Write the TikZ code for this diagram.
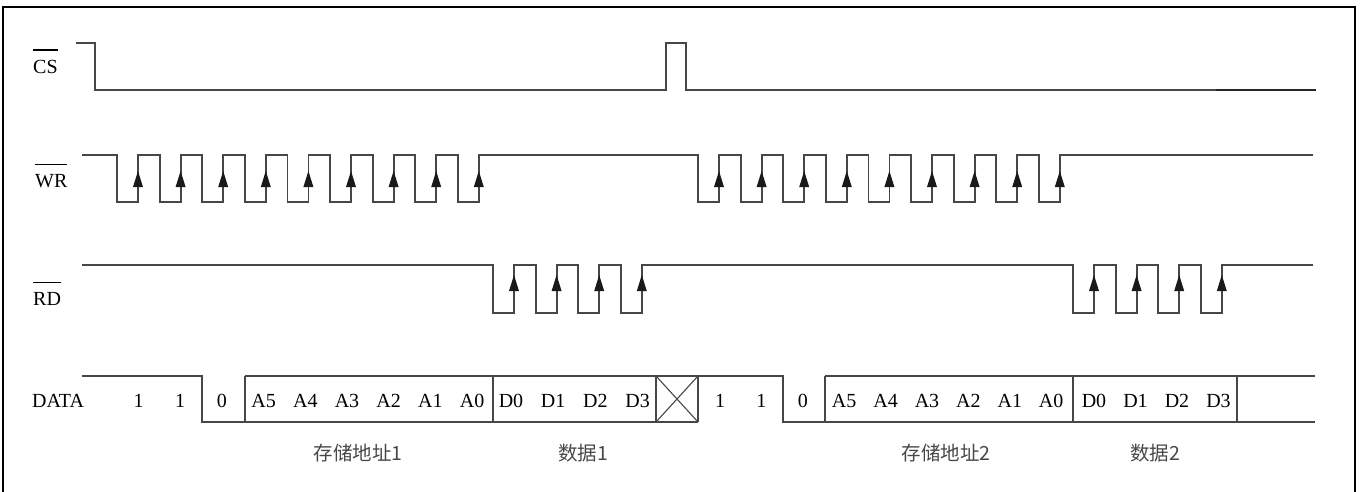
\documentclass[tikz,border=0pt]{standalone}
\usepackage{fontspec}
\setmainfont{Liberation Serif}
\newfontfamily\cjk{Noto Sans CJK SC}
\newcommand\ovl[1]{\leavevmode\vbox{\hrule height 1.4pt\kern 9pt\hbox{#1}}}
\newcommand\upmark[3]{\fill[black!90] ({#1-5},#3) -- ({#1+5},#3) -- (#1,#2) -- cycle;}
\begin{document}
\begin{tikzpicture}[x=1pt,y=-1pt,
  sig/.style={draw=black!72, line width=1.8pt, line join=miter},
  lbl/.style={inner sep=0pt, font=\fontsize{20}{20}\selectfont, text=black},
  cn/.style={inner sep=0pt, font=\cjk\fontsize{19.5}{19.5}\selectfont, text=black!72}]
\useasboundingbox (0,0) rectangle (1363,491);
\clip (0,0) rectangle (1363,491);
\draw[line width=2.4pt] (3,7) rectangle (1355,530);
\def\P{42.6}
% signal names
\node[lbl, anchor=base west] (cs) at (33,73) {\ovl{CS}};
\node[lbl, anchor=base west] (wr) at (35,187) {\ovl{WR}};
\node[lbl, anchor=base west] (rd) at (33,305) {\ovl{RD}};
\node[lbl, anchor=base west] (data) at (32,407) {DATA};
% CS
\draw[sig] (76,43) -- (95,43) -- (95,90) -- (666,90) -- (666,43) -- (686,43) -- (686,90) -- (1316,90);
\draw[draw=black!85, line width=2.6pt] (1216,90) -- (1316,90);
% WR
\draw[sig] (82,155)
  foreach \i in {0,...,8} { -- ({117+\P*\i},155) -- ({117+\P*\i},202) -- ({138+\P*\i},202) -- ({138+\P*\i},155) }
  -- (698,155)
  foreach \i in {0,...,8} { -- ({698+\P*\i},155) -- ({698+\P*\i},202) -- ({719+\P*\i},202) -- ({719+\P*\i},155) }
  -- (1313,155);
\foreach \i in {0,...,8} {
  \upmark{138+\P*\i}{171}{187}
  \upmark{719+\P*\i}{171}{187}
}
% RD
\draw[sig] (82,265)
  foreach \i in {0,...,3} { -- ({493+\P*\i},265) -- ({493+\P*\i},313) -- ({514+\P*\i},313) -- ({514+\P*\i},265) }
  -- (1073,265)
  foreach \i in {0,...,3} { -- ({1073+\P*\i},265) -- ({1073+\P*\i},313) -- ({1094+\P*\i},313) -- ({1094+\P*\i},265) }
  -- (1313,265);
\foreach \i in {0,...,3} {
  \upmark{514+\P*\i}{275}{291}
  \upmark{1094+\P*\i}{275}{291}
}
% DATA bus
\draw[sig] (82,376) -- (202,376) -- (202,422) -- (245,422);
\draw[sig] (245,376) -- (698,376) -- (783,376) -- (783,422) -- (825,422);
\draw[sig] (245,422) -- (698,422);
\draw[sig] (245,376) -- (245,422);
\draw[sig] (493,376) -- (493,422);
\draw[sig] (656,376) -- (656,422);
\draw[sig] (698,376) -- (698,422);
\draw[draw=black!72, line width=1.1pt] (656,376) -- (698,422) (656,422) -- (698,376);
\draw[sig] (825,376) -- (1315,376);
\draw[sig] (825,422) -- (1315,422);
\draw[sig] (825,376) -- (825,422);
\draw[sig] (1073,376) -- (1073,422);
\draw[sig] (1237,376) -- (1237,422);
% DATA values
\foreach \t [count=\k from 0] in {1,1,0,A5,A4,A3,A2,A1,A0} {
  \node[lbl, anchor=base] (da\k) at ({138.5+41.7*\k},407) {\t};
  \node[lbl, anchor=base] (db\k) at ({720+41.4*\k},407) {\t};
}
\foreach \t [count=\k from 0] in {D0,D1,D2,D3} {
  \node[lbl, anchor=base] (dc\k) at ({511+42.2*\k},407) {\t};
  \node[lbl, anchor=base] (dd\k) at ({1094+41.5*\k},407) {\t};
}
% group captions
\node[cn] (addr1) at (358,453) {存储地址1};
\node[cn] (dat1) at (583,453) {数据1};
\node[cn] (addr2) at (946,453) {存储地址2};
\node[cn] (dat2) at (1155,453) {数据2};
\end{tikzpicture}
\end{document}
